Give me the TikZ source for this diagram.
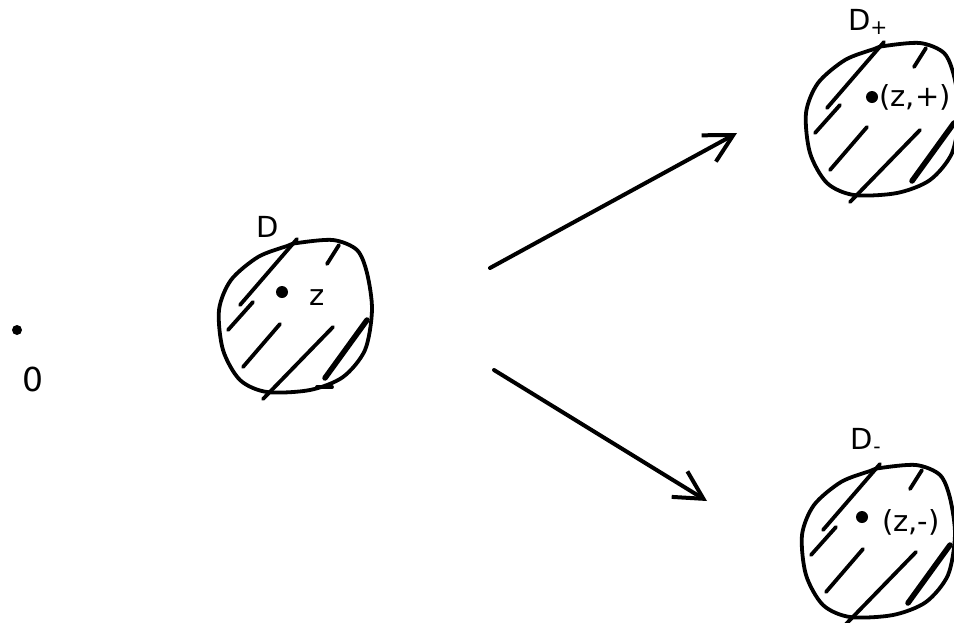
\documentclass[tikz,border=0pt]{standalone}
\usepackage{fontspec}
\setmainfont{DejaVu Sans}
\usetikzlibrary{arrows.meta}

\begin{document}
\begin{tikzpicture}[x=1pt, y=-1pt,
        pen/.style={line width=3.8pt, line cap=round, line join=round},
        heavy/.style={pen, line width=5.5pt},
        arrow/.style={line width=4pt, line cap=round, -{Straight Barb[length=28pt, width=30pt]}},
        lbl/.style={font=\fontsize{29}{29}\selectfont, inner sep=0pt},
        spot/.style={fill=black, circle, inner sep=0pt, minimum size=12pt}
    ]
    \useasboundingbox (0,0) rectangle (954,622);

    % the three discs
    \foreach \cx/\cy in {295/315, 882/118, 878/540} {
        \begin{scope}[shift={(\cx,\cy)}]
            \draw[pen] plot[smooth cycle] coordinates {(2,-72) (38,-75) (62,-65) (72,-42) (77,-5) (70,35) (48,62) (15,75) (-28,77) (-55,65) (-72,35) (-76,-5) (-64,-35) (-37,-58) (-8,-69)};
            \draw[pen] (2,-76) -- (-55,-10) (-42,-13) -- (-67,15);
            \draw[pen] (44,-70) -- (32,-51);
            \draw[pen] (-15,9) -- (-52,52);
            \draw[pen] (38,12) -- (-32,84);
            \draw[heavy] (72,5) -- (30,63);
        \end{scope}
    }
    \draw[pen] (317,387) -- (332,387);

    % origin
    \node[spot, minimum size=10pt] (o) at (17,330) {};
    \node[lbl, font=\fontsize{33}{33}\selectfont] (olbl) at (33,379) {0};

    % disc D
    \node[lbl] (dlbl) at (268,227) {D};
    \node[spot] (z) at (282,292) {};
    \node[lbl] (zlbl) at (317,298) {z};

    % disc D+
    \node[lbl] (dplbl) at (868,22) {D\textsubscript{+}};
    \node[spot] (zp) at (872,97) {};
    \node[lbl] (zplbl) at (915,97) {(z,+)};

    % disc D-
    \node[lbl] (dmlbl) at (866,441) {D\textsubscript{-}};
    \node[spot] (zm) at (862,517) {};
    \node[lbl] (zmlbl) at (911,522) {(z,-)};

    % maps
    \coordinate (upa) at (490,268);
    \coordinate (upb) at (737,133);
    \coordinate (dna) at (494,370);
    \coordinate (dnb) at (707,501);
    \draw[arrow] (upa) -- (upb);
    \draw[arrow] (dna) -- (dnb);
\end{tikzpicture}
\end{document}
